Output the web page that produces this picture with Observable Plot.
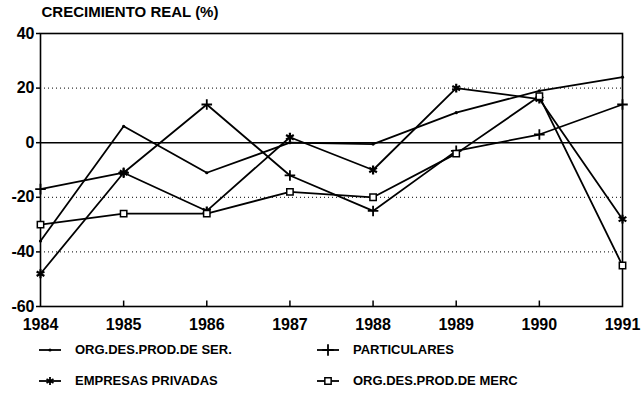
<!DOCTYPE html>
<html><head><meta charset="utf-8">
<script src="https://cdn.jsdelivr.net/npm/d3@7"></script>
<script src="https://cdn.jsdelivr.net/npm/@observablehq/plot@0.6"></script>
<style>
body{margin:0;background:#fff;}
#wrap{position:relative;width:641px;height:411px;background:#fff;font-family:"Liberation Sans",Arial,sans-serif;font-weight:bold;color:#000;overflow:hidden;}
#wrap svg.chart{position:absolute;left:0;top:0;}
.leg{position:absolute;display:flex;align-items:center;font-size:13px;white-space:nowrap;}
.leg svg{margin-right:13px;}
</style></head><body><div id="wrap"></div>
<script>
const years = [1984, 1985, 1986, 1987, 1988, 1989, 1990, 1991];
const seriesNames = ["ORG.DES.PROD.DE SER.", "PARTICULARES", "EMPRESAS PRIVADAS", "ORG.DES.PROD.DE MERC"];
const orgSer       = [-36,   6, -11,   0, -0.5, 11, 19,  24];
const particulares = [-17, -11,  14, -12, -25,  -3,  3,  14];
const empresas     = [-48, -11, -25,   2, -10,  20, 16, -28];
const orgMerc      = [-30, -26, -26, -18, -20,  -4, 17, -45];
const yTicks = [-60, -40, -20, 0, 20, 40];
const gridValues = [-40, -20, 20];
const titleText = "CRECIMIENTO REAL (%)";

const seriesValues = [orgSer, particulares, empresas, orgMerc];
const data = [];
seriesNames.forEach((s, i) => years.forEach((yr, j) => data.push({series: s, year: yr, value: seriesValues[i][j]})));

const font = '"Liberation Sans", Arial, sans-serif';
const only = name => d => d.series === name;

const chart = Plot.plot({
  width: 641, height: 335,
  marginLeft: 40, marginRight: 19, marginTop: 33, marginBottom: 29,
  x: {domain: [1984, 1991], label: null},
  y: {domain: [-60, 40], label: null},
  style: {fontFamily: font, fontWeight: "bold", fontSize: "16px", color: "#000", background: "transparent", overflow: "visible"},
  marks: [
    Plot.ruleY(gridValues, {stroke: "#000", strokeWidth: 1, strokeDasharray: "1,3"}),
    Plot.ruleY([0], {stroke: "#000", strokeWidth: 1.6}),
    Plot.ruleX(years.slice(1, -1), {y1: -60, y2: -58, stroke: "#000", strokeWidth: 1.5}),
    Plot.frame({stroke: "#000", strokeWidth: 1.6}),
    Plot.axisX({ticks: years, tickFormat: d => String(d), tickSize: 0, tickPadding: 12, fontSize: 16, fontWeight: "bold", label: null}),
    Plot.axisY({ticks: yTicks, tickFormat: d => String(d), tickSize: 4, tickPadding: 2, fontSize: 16, fontWeight: "bold", label: null, strokeWidth: 1.5}),
    Plot.lineY(data, {x: "year", y: "value", z: "series", stroke: "#000", strokeWidth: 1.8}),
    Plot.dot(data, {filter: only(seriesNames[0]), x: "year", y: "value", r: 1.6, fill: "#000"}),
    Plot.dot(data, {filter: only(seriesNames[1]), x: "year", y: "value", symbol: "plus", r: 3.5, stroke: "#000", strokeWidth: 1.8}),
    Plot.dot(data, {filter: only(seriesNames[2]), x: "year", y: "value", symbol: "asterisk", r: 4.2, stroke: "#000", strokeWidth: 2.2}),
    Plot.dot(data, {filter: only(seriesNames[3]), x: "year", y: "value", symbol: "square", r: 3.6, fill: "#fff", stroke: "#000", strokeWidth: 1.5}),
    Plot.text([titleText], {frameAnchor: "top-left", dx: 1, dy: -17, text: d => d, fontSize: 15, fontWeight: "bold", textAnchor: "start", lineAnchor: "bottom", fill: "#000"})
  ]
});
chart.classList.add("chart");
const wrap = document.getElementById("wrap");
wrap.appendChild(chart);

// legend
const legendPos = [
  {left: 38, top: 342},
  {left: 316, top: 342},
  {left: 38, top: 373},
  {left: 316, top: 373}
];
const legendOrder = [0, 1, 2, 3];
const markers = ["dot", "plus", "asterisk", "square"];
legendOrder.forEach((i, k) => {
  const div = document.createElement("div");
  div.className = "leg";
  div.style.left = legendPos[k].left + "px";
  div.style.top = legendPos[k].top + "px";
  const svg = d3.create("svg").attr("width", 24).attr("height", 14);
  svg.append("line").attr("x1", 1).attr("x2", 23).attr("y1", 7).attr("y2", 7).attr("stroke", "#000").attr("stroke-width", 1.8);
  const sym = markers[i];
  if (sym === "dot") {
    svg.append("circle").attr("cx", 12).attr("cy", 7).attr("r", 1.6).attr("fill", "#000");
  } else {
    const symbolType = sym === "plus" ? d3.symbolPlus : sym === "asterisk" ? d3.symbolAsterisk : d3.symbolSquare;
    const size = sym === "square" ? 40 : 45;
    svg.append("path").attr("transform", "translate(12,7)")
      .attr("d", d3.symbol(symbolType, size)())
      .attr("fill", sym === "square" ? "#fff" : "none")
      .attr("stroke", "#000").attr("stroke-width", sym === "square" ? 1.5 : 1.8);
  }
  div.appendChild(svg.node());
  const span = document.createElement("span");
  span.textContent = seriesNames[i];
  div.appendChild(span);
  wrap.appendChild(div);
});
</script>
</body></html>
